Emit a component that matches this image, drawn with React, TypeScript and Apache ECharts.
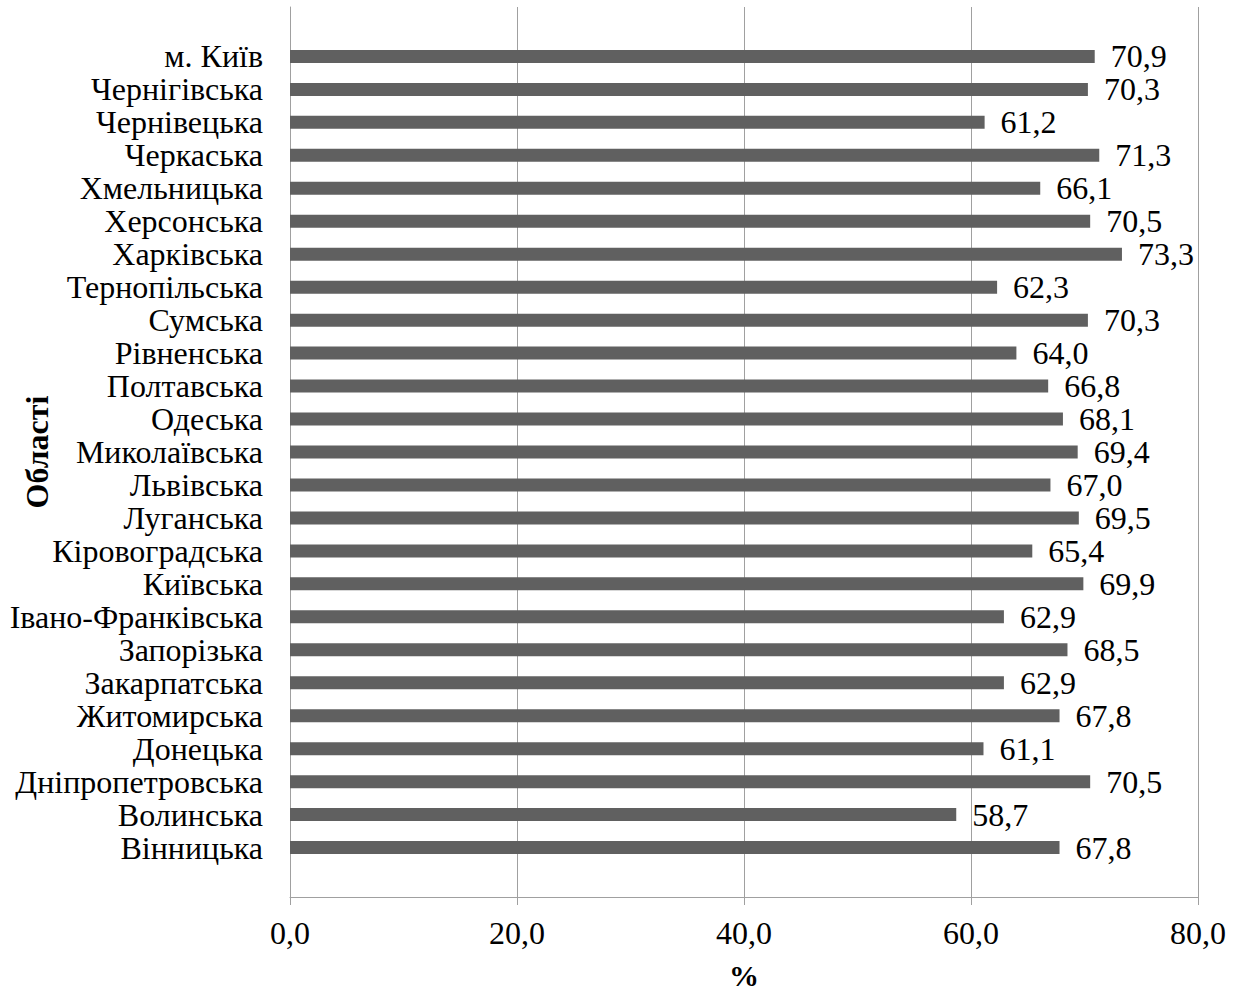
import React, { useEffect, useRef } from "react";
import * as echarts from "echarts";

const categories = [
  "Вінницька", "Волинська", "Дніпропетровська", "Донецька", "Житомирська",
  "Закарпатська", "Запорізька", "Івано-Франківська", "Київська", "Кіровоградська",
  "Луганська", "Львівська", "Миколаївська", "Одеська", "Полтавська",
  "Рівненська", "Сумська", "Тернопільська", "Харківська", "Херсонська",
  "Хмельницька", "Черкаська", "Чернівецька", "Чернігівська", "м. Київ",
];
const values = [
  67.8, 58.7, 70.5, 61.1, 67.8,
  62.9, 68.5, 62.9, 69.9, 65.4,
  69.5, 67.0, 69.4, 68.1, 66.8,
  64.0, 70.3, 62.3, 73.3, 70.5,
  66.1, 71.3, 61.2, 70.3, 70.9,
];
const xTicks = [0, 20, 40, 60, 80];

const fmt = (v: number) => v.toFixed(1).replace(".", ",");
const FONT = "'Liberation Serif', 'Times New Roman', serif";

export default function App() {
  const ref = useRef<HTMLDivElement>(null);
  useEffect(() => {
    if (!ref.current) return;
    const chart = echarts.init(ref.current, undefined, { renderer: "svg" });
    const cats = ["", ...categories, ""];
    const data = [null, ...values, null];
    chart.setOption({
      animation: false,
      textStyle: { fontFamily: FONT, color: "#000" },
      grid: { left: 290, right: 39, top: 7, bottom: 94, containLabel: false, outerBoundsMode: "none" },
      xAxis: {
        type: "value",
        min: xTicks[0],
        max: xTicks[xTicks.length - 1],
        interval: 20,
        name: "%",
        nameLocation: "middle",
        nameGap: 64,
        nameMoveOverlap: false,
        nameTextStyle: { fontFamily: FONT, fontSize: 30, lineHeight: 28, fontWeight: "bold", color: "#000" },
        axisLine: { show: true, lineStyle: { color: "#a0a0a0", width: 1 } },
        axisTick: { show: true, length: 8, lineStyle: { color: "#a0a0a0" } },
        axisLabel: { formatter: (v: number) => fmt(v), fontFamily: FONT, fontSize: 32, color: "#000", margin: 20 },
        splitLine: { show: true, lineStyle: { color: "#a0a0a0", width: 1 } },
      },
      yAxis: {
        type: "category",
        data: cats,
        name: "Області",
        nameLocation: "middle",
        nameGap: 237,
        nameMoveOverlap: false,
        nameTextStyle: { fontFamily: FONT, fontSize: 32, fontWeight: "bold", color: "#000" },
        axisLine: { show: true, lineStyle: { color: "#a0a0a0", width: 1 } },
        axisTick: { show: false },
        axisLabel: { fontFamily: FONT, fontSize: 32, color: "#000", margin: 27, interval: 0 },
        splitLine: { show: false },
      },
      series: [
        {
          type: "bar",
          data,
          barWidth: 13,
          itemStyle: { color: "#606060" },
          label: {
            show: true,
            position: "right",
            distance: 16,
            formatter: (p: any) => fmt(p.value),
            fontFamily: FONT,
            fontSize: 32,
            color: "#000",
          },
        },
      ],
    });
    return () => chart.dispose();
  }, []);
  return (
    <div
      ref={ref}
      style={{ position: "absolute", left: 0, top: 0, width: 1237, height: 991, background: "#fff" }}
    />
  );
}
